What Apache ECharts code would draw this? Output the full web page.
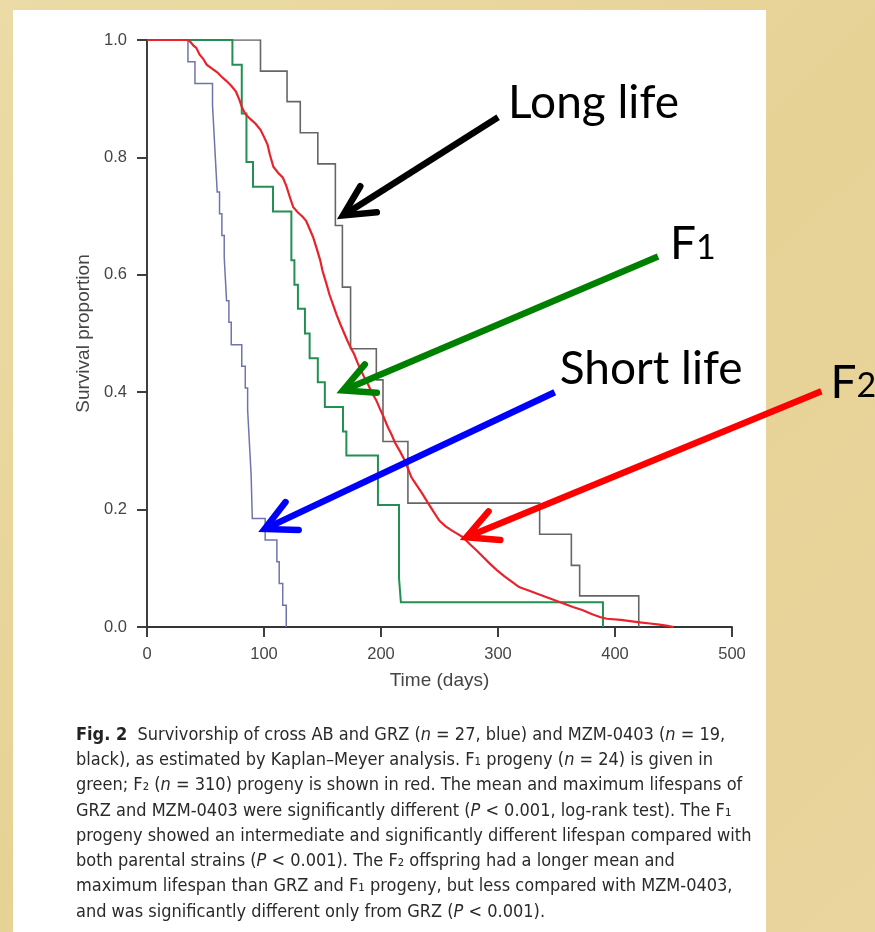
<!DOCTYPE html>
<html>
<head>
<meta charset="utf-8">
<title>Survivorship of cross AB, GRZ and MZM-0403</title>
<script src="https://cdn.jsdelivr.net/npm/echarts@6/dist/echarts.min.js"></script>
<style>
  html, body { margin: 0; padding: 0; background: #E8D49B; }
  #chart { width: 875px; height: 932px; }
</style>
</head>
<body>
<div id="chart"></div>
<script>
// Kaplan–Meier step points: day of each drop and survival proportion after it.

// GRZ, n = 27 (short-lived strain, blue)
const grzDays = [0, 35, 41, 56, 57, 58, 59, 60, 62, 64, 66, 67, 68, 70, 72, 81, 84, 86, 87, 88, 89, 89.5, 90, 101, 111, 113, 116, 119];
const grzSurv = [1, 0.963, 0.926, 0.889, 0.852, 0.815, 0.778, 0.741, 0.704, 0.667, 0.630, 0.593, 0.556, 0.519, 0.481, 0.444, 0.407, 0.370, 0.333, 0.296, 0.259, 0.222, 0.185, 0.148, 0.111, 0.074, 0.037, 0];

// MZM-0403, n = 19 (long-lived strain, black)
const mzmDays = [0, 97, 119.7, 131, 146, 161, 167, 174, 196, 201.7, 223, 335.6, 362.7, 369.8, 420.3];
const mzmSurv = [1, 0.947, 0.895, 0.842, 0.789, 0.684, 0.579, 0.474, 0.421, 0.316, 0.211, 0.158, 0.105, 0.053, 0];

// F1 progeny, n = 24 (green)
const f1Days = [0, 73, 81, 85, 90.6, 107.7, 123.4, 126, 129, 135, 139, 146, 152, 167.5, 170.4, 197.4, 215.4, 217, 389.7];
const f1Surv = [1, 0.958, 0.875, 0.792, 0.750, 0.708, 0.625, 0.583, 0.542, 0.500, 0.458, 0.417, 0.375, 0.333, 0.292, 0.208, 0.083, 0.042, 0];

// F2 progeny, n = 310 (red) – steps are so small the curve reads as a continuous trace
const f2Days = [0, 35, 37, 40, 42, 45, 48, 51, 55, 60, 64, 68, 72, 76, 79, 81, 84, 88, 93, 97, 100, 103, 105, 108, 112, 116, 119, 122, 125, 129, 133, 136, 139, 142, 145, 148, 150, 153, 156, 159, 162, 165, 168, 171, 174, 177, 180, 183, 186, 189, 192, 196, 199, 202, 206, 209, 212, 216, 220, 223, 226, 230, 235, 240, 245, 250, 255, 260, 265, 270, 276, 282, 288, 293, 299, 305, 312, 318, 325, 333, 341, 348, 356, 364, 372, 380, 387, 393, 405, 421, 430, 438, 445, 450];
const f2Surv = [1, 1, 0.997, 0.990, 0.987, 0.975, 0.968, 0.958, 0.952, 0.945, 0.937, 0.930, 0.922, 0.912, 0.898, 0.886, 0.874, 0.866, 0.857, 0.847, 0.835, 0.822, 0.805, 0.784, 0.774, 0.766, 0.752, 0.733, 0.715, 0.706, 0.699, 0.692, 0.678, 0.664, 0.645, 0.625, 0.607, 0.587, 0.566, 0.549, 0.532, 0.517, 0.503, 0.489, 0.476, 0.465, 0.450, 0.437, 0.424, 0.413, 0.400, 0.386, 0.372, 0.359, 0.340, 0.328, 0.314, 0.300, 0.285, 0.270, 0.255, 0.243, 0.228, 0.212, 0.196, 0.181, 0.172, 0.165, 0.159, 0.153, 0.141, 0.130, 0.118, 0.108, 0.097, 0.087, 0.077, 0.068, 0.063, 0.057, 0.051, 0.046, 0.040, 0.034, 0.029, 0.022, 0.017, 0.014, 0.012, 0.008, 0.006, 0.004, 0.002, 0];

// Axis ticks
const xTicks = [0, 100, 200, 300, 400, 500];
const yTicks = [0, 0.2, 0.4, 0.6, 0.8, 1.0];

// Figure caption, one entry per printed line
const captionLines = [
  '{b|Fig. 2}  Survivorship of cross AB and GRZ ({i|n} = 27, blue) and MZM-0403 ({i|n} = 19,',
  'black), as estimated by Kaplan–Meyer analysis. F₁ progeny ({i|n} = 24) is given in',
  'green; F₂ ({i|n} = 310) progeny is shown in red. The mean and maximum lifespans of',
  'GRZ and MZM-0403 were significantly different ({i|P} < 0.001, log-rank test). The F₁',
  'progeny showed an intermediate and significantly different lifespan compared with',
  'both parental strains ({i|P} < 0.001). The F₂ offspring had a longer mean and',
  'maximum lifespan than GRZ and F₁ progeny, but less compared with MZM-0403,',
  'and was significantly different only from GRZ ({i|P} < 0.001).'
];

const toPoints = (days, surv) => days.map((d, i) => [d, surv[i]]);

const chart = echarts.init(document.getElementById('chart'), null, { renderer: 'canvas', width: 875, height: 932 });

const axisColor = '#353535';
const labelColor = '#454545';
const axisFont = 'Liberation Sans, Arial, Helvetica, sans-serif';
const captionFont = 'DejaVu Sans Condensed, DejaVu Sans, sans-serif';

function kmLine(name, data, color, width, z, step) {
  return {
    name, type: 'line', step: step === false ? false : 'end', data,
    symbol: 'none', showSymbol: false,
    lineStyle: { color, width, join: 'miter' },
    z, animation: false, silent: true
  };
}

chart.setOption({
  animation: false,
  backgroundColor: {
    type: 'linear', x: 0, y: 0, x2: 1, y2: 1,
    colorStops: [
      { offset: 0, color: '#ECDBA6' },
      { offset: 0.5, color: '#E7D296' },
      { offset: 1, color: '#E9D59D' }
    ]
  },
  grid: { left: 147, right: 143, top: 40, bottom: 305, containLabel: false },
  xAxis: {
    type: 'value', min: xTicks[0], max: xTicks[xTicks.length - 1], interval: 100,
    name: 'Time (days)', nameLocation: 'middle', nameGap: 44,
    nameTextStyle: { fontFamily: axisFont, fontSize: 19, color: labelColor },
    axisLine: { show: true, onZero: false, lineStyle: { color: axisColor, width: 1.9 } },
    axisTick: { show: true, inside: false, length: 10, lineStyle: { color: axisColor, width: 1.9 } },
    axisLabel: { fontFamily: axisFont, fontSize: 16.5, color: labelColor, margin: 19 },
    splitLine: { show: false }
  },
  yAxis: {
    type: 'value', min: yTicks[0], max: yTicks[yTicks.length - 1], interval: 0.2,
    name: 'Survival proportion', nameLocation: 'middle', nameGap: 49, nameRotate: 90,
    nameTextStyle: { fontFamily: axisFont, fontSize: 19, color: labelColor },
    axisLine: { show: true, onZero: false, lineStyle: { color: axisColor, width: 1.9 } },
    axisTick: { show: true, inside: false, length: 10, lineStyle: { color: axisColor, width: 1.9 } },
    axisLabel: { fontFamily: axisFont, fontSize: 16.5, color: labelColor, margin: 20,
                 formatter: v => v.toFixed(1) },
    splitLine: { show: false }
  },
  series: [
    kmLine('MZM-0403', toPoints(mzmDays, mzmSurv), '#666666', 1.6, 2),
    kmLine('GRZ', toPoints(grzDays, grzSurv), '#6f74ae', 1.5, 3),
    kmLine('F1', toPoints(f1Days, f1Surv), '#229053', 2, 4),
    kmLine('F2', toPoints(f2Days, f2Surv), '#e8232c', 2.2, 5, false)
  ]
});

// Callout arrows, anchored in data space (day, survival)
const callouts = [
  { text: 'Long life', color: '#000000', tip: [167.5, 0.701], tail: [300.1, 0.8685], dx: 10, dy: -14 },
  { text: '{f|F}{d|1}', color: '#008000', tip: [167.5, 0.403], tail: [436.8, 0.631], dx: 12, dy: -14 },
  { text: 'Short life', color: '#0000ff', tip: [100.6, 0.167], tail: [348.5, 0.400], dx: 5, dy: -23 },
  { text: '{f|F}{d|2}', color: '#ff0000', tip: [273.0, 0.153], tail: [576.4, 0.4017], dx: 9, dy: -10 }
];

const graphic = [
  // white page panel
  { type: 'rect', z: -10, silent: true,
    shape: { x: 13, y: 10, width: 753, height: 930 },
    style: { fill: '#ffffff' } }
];

// caption text
captionLines.forEach((line, i) => {
  graphic.push({
    type: 'text', z: 10, silent: true,
    x: 76, y: 735 + i * 25.3,
    style: {
      text: line,
      fontFamily: captionFont,
      fontSize: 18, fill: '#2a2a2a', verticalAlign: 'middle',
      rich: {
        b: { fontWeight: 'bold', fontSize: 18, fontFamily: captionFont, fill: '#222' },
        i: { fontStyle: 'italic', fontSize: 18, fontFamily: captionFont, fill: '#2a2a2a' }
      }
    }
  });
});

const calloutFont = 'Lato, Open Sans, sans-serif';
const wingLen = 34;
const wingAngle = 27 * Math.PI / 180;
callouts.forEach(c => {
  const tip = chart.convertToPixel({ gridIndex: 0 }, c.tip);
  const tail = chart.convertToPixel({ gridIndex: 0 }, c.tail);
  const vx = tail[0] - tip[0], vy = tail[1] - tip[1];
  const len = Math.hypot(vx, vy);
  const ux = vx / len, uy = vy / len;
  const rot = a => [tip[0] + wingLen * (ux * Math.cos(a) - uy * Math.sin(a)),
                    tip[1] + wingLen * (ux * Math.sin(a) + uy * Math.cos(a))];
  graphic.push({
    type: 'polyline', z: 20, silent: true,
    shape: { points: [tail, [tip[0] + ux * 2, tip[1] + uy * 2]] },
    style: { stroke: c.color, lineWidth: 6.5, lineCap: 'butt', fill: null }
  });
  graphic.push({
    type: 'polyline', z: 20, silent: true,
    shape: { points: [rot(wingAngle), tip, rot(-wingAngle)] },
    style: { stroke: c.color, lineWidth: 6.5, lineCap: 'round', lineJoin: 'miter', miterLimit: 10, fill: null }
  });
  graphic.push({
    type: 'text', z: 21, silent: true,
    x: tail[0] + c.dx, y: tail[1] + c.dy,
    style: {
      text: c.text, fontFamily: calloutFont, fontSize: 46,
      fill: '#000', verticalAlign: 'middle',
      rich: {
        f: { fontFamily: calloutFont, fontSize: 46, fill: '#000', verticalAlign: 'bottom', lineHeight: 50 },
        d: { fontFamily: calloutFont, fontSize: 34, fill: '#000', verticalAlign: 'bottom', lineHeight: 50, padding: [0, 0, 3, 0] }
      }
    }
  });
});

chart.setOption({ graphic });
</script>
</body>
</html>
